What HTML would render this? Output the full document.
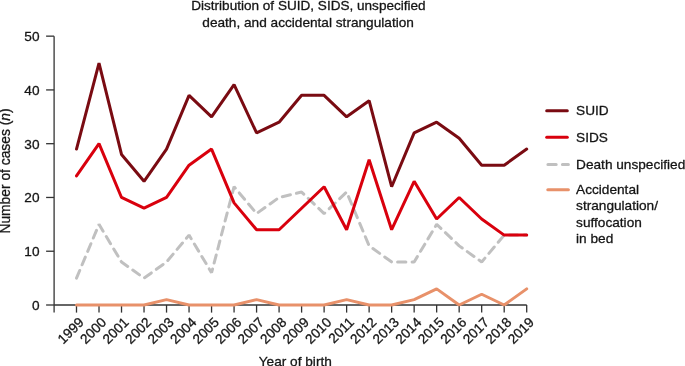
<!DOCTYPE html>
<html><head><meta charset="utf-8"><title>Distribution of SUID, SIDS</title>
<style>
html,body{margin:0;padding:0;background:#fff;}
svg{display:block;font-family:"Liberation Sans",sans-serif;fill:#111;}
text{fill:#151515;stroke:#151515;stroke-width:0.3px;stroke-linejoin:round}
.ln{fill:none;stroke-width:3;stroke-linejoin:bevel;stroke-linecap:round}
.ax{stroke:#333;stroke-width:1.3;fill:none}
</style></head><body>
<svg width="685" height="366" viewBox="0 0 685 366">
<rect width="685" height="366" fill="#fff"/>
<text x="308.45" y="9.9" font-size="13.57" text-anchor="middle">Distribution of SUID, SIDS, unspecified</text>
<text x="308.1" y="27" font-size="13.65" text-anchor="middle">death, and accidental strangulation</text>
<path class="ax" d="M54.1,36.15V312.60"/>
<path class="ax" d="M54.1,305.0H526.70"/>
<path class="ax" d="M46.1,305.00H54.1"/>
<text x="39.5" y="309.90" font-size="13.65" text-anchor="end">0</text>
<path class="ax" d="M46.1,251.23H54.1"/>
<text x="39.5" y="256.13" font-size="13.65" text-anchor="end">10</text>
<path class="ax" d="M46.1,197.46H54.1"/>
<text x="39.5" y="202.36" font-size="13.65" text-anchor="end">20</text>
<path class="ax" d="M46.1,143.69H54.1"/>
<text x="39.5" y="148.59" font-size="13.65" text-anchor="end">30</text>
<path class="ax" d="M46.1,89.92H54.1"/>
<text x="39.5" y="94.82" font-size="13.65" text-anchor="end">40</text>
<path class="ax" d="M46.1,36.15H54.1"/>
<text x="39.5" y="41.05" font-size="13.65" text-anchor="end">50</text>
<path class="ax" d="M76.50,305.0V312.6"/>
<text transform="translate(84.70,323.20) rotate(-45)" font-size="13.65" text-anchor="end">1999</text>
<path class="ax" d="M99.01,305.0V312.6"/>
<text transform="translate(107.21,323.20) rotate(-45)" font-size="13.65" text-anchor="end">2000</text>
<path class="ax" d="M121.52,305.0V312.6"/>
<text transform="translate(129.72,323.20) rotate(-45)" font-size="13.65" text-anchor="end">2001</text>
<path class="ax" d="M144.03,305.0V312.6"/>
<text transform="translate(152.23,323.20) rotate(-45)" font-size="13.65" text-anchor="end">2002</text>
<path class="ax" d="M166.54,305.0V312.6"/>
<text transform="translate(174.74,323.20) rotate(-45)" font-size="13.65" text-anchor="end">2003</text>
<path class="ax" d="M189.05,305.0V312.6"/>
<text transform="translate(197.25,323.20) rotate(-45)" font-size="13.65" text-anchor="end">2004</text>
<path class="ax" d="M211.56,305.0V312.6"/>
<text transform="translate(219.76,323.20) rotate(-45)" font-size="13.65" text-anchor="end">2005</text>
<path class="ax" d="M234.07,305.0V312.6"/>
<text transform="translate(242.27,323.20) rotate(-45)" font-size="13.65" text-anchor="end">2006</text>
<path class="ax" d="M256.58,305.0V312.6"/>
<text transform="translate(264.78,323.20) rotate(-45)" font-size="13.65" text-anchor="end">2007</text>
<path class="ax" d="M279.09,305.0V312.6"/>
<text transform="translate(287.29,323.20) rotate(-45)" font-size="13.65" text-anchor="end">2008</text>
<path class="ax" d="M301.60,305.0V312.6"/>
<text transform="translate(309.80,323.20) rotate(-45)" font-size="13.65" text-anchor="end">2009</text>
<path class="ax" d="M324.11,305.0V312.6"/>
<text transform="translate(332.31,323.20) rotate(-45)" font-size="13.65" text-anchor="end">2010</text>
<path class="ax" d="M346.62,305.0V312.6"/>
<text transform="translate(354.82,323.20) rotate(-45)" font-size="13.65" text-anchor="end">2011</text>
<path class="ax" d="M369.13,305.0V312.6"/>
<text transform="translate(377.33,323.20) rotate(-45)" font-size="13.65" text-anchor="end">2012</text>
<path class="ax" d="M391.64,305.0V312.6"/>
<text transform="translate(399.84,323.20) rotate(-45)" font-size="13.65" text-anchor="end">2013</text>
<path class="ax" d="M414.15,305.0V312.6"/>
<text transform="translate(422.35,323.20) rotate(-45)" font-size="13.65" text-anchor="end">2014</text>
<path class="ax" d="M436.66,305.0V312.6"/>
<text transform="translate(444.86,323.20) rotate(-45)" font-size="13.65" text-anchor="end">2015</text>
<path class="ax" d="M459.17,305.0V312.6"/>
<text transform="translate(467.37,323.20) rotate(-45)" font-size="13.65" text-anchor="end">2016</text>
<path class="ax" d="M481.68,305.0V312.6"/>
<text transform="translate(489.88,323.20) rotate(-45)" font-size="13.65" text-anchor="end">2017</text>
<path class="ax" d="M504.19,305.0V312.6"/>
<text transform="translate(512.39,323.20) rotate(-45)" font-size="13.65" text-anchor="end">2018</text>
<path class="ax" d="M526.70,305.0V312.6"/>
<text transform="translate(534.90,323.20) rotate(-45)" font-size="13.65" text-anchor="end">2019</text>
<text transform="translate(10.25,171.0) rotate(-90)" font-size="13.82" text-anchor="middle">Number of cases (<tspan font-style="italic">n</tspan>)</text>
<text x="295.3" y="365.5" font-size="13.65" text-anchor="middle">Year of birth</text>
<polyline class="ln" stroke="#c0c0c0" stroke-dasharray="8.3 6.2" points="76.50,278.12 99.01,224.34 121.52,261.98 144.03,278.12 166.54,261.98 189.05,235.10 211.56,272.74 234.07,186.71 256.58,213.59 279.09,197.46 301.60,192.08 324.11,213.59 346.62,192.08 369.13,245.85 391.64,261.98 414.15,261.98 436.66,224.34 459.17,245.85 481.68,261.98 504.19,235.10 526.70,235.10"/>
<polyline class="ln" stroke="#e8916a" points="76.50,305.00 99.01,305.00 121.52,305.00 144.03,305.00 166.54,299.62 189.05,305.00 211.56,305.00 234.07,305.00 256.58,299.62 279.09,305.00 301.60,305.00 324.11,305.00 346.62,299.62 369.13,305.00 391.64,305.00 414.15,299.62 436.66,288.87 459.17,305.00 481.68,294.25 504.19,305.00 526.70,288.87"/>
<polyline class="ln" stroke="#d9000d" points="76.50,175.95 99.01,143.69 121.52,197.46 144.03,208.21 166.54,197.46 189.05,165.20 211.56,149.07 234.07,202.84 256.58,229.72 279.09,229.72 301.60,208.21 324.11,186.71 346.62,229.72 369.13,159.82 391.64,229.72 414.15,181.33 436.66,218.97 459.17,197.46 481.68,218.97 504.19,235.10 526.70,235.10"/>
<polyline class="ln" stroke="#7a0b12" points="76.50,149.07 99.01,63.03 121.52,154.44 144.03,181.33 166.54,149.07 189.05,95.30 211.56,116.81 234.07,84.54 256.58,132.94 279.09,122.18 301.60,95.30 324.11,95.30 346.62,116.81 369.13,100.67 391.64,186.71 414.15,132.94 436.66,122.18 459.17,138.31 481.68,165.20 504.19,165.20 526.70,149.07"/>
<path d="M546.7,110.7H567.3" fill="none" stroke="#7a0b12" stroke-width="3" stroke-linecap="round"/>
<path d="M546.7,137.3H567.3" fill="none" stroke="#d9000d" stroke-width="3" stroke-linecap="round"/>
<path d="M547.9,164.5H568.4" fill="none" stroke="#c0c0c0" stroke-width="3" stroke-linecap="round" stroke-dasharray="8.3 6.2"/>
<path d="M547.8,189.85H568.4" fill="none" stroke="#e8916a" stroke-width="3" stroke-linecap="round"/>
<text x="576.1" y="114.8" font-size="13.65">SUID</text>
<text x="576.1" y="141.8" font-size="13.65">SIDS</text>
<text x="576.1" y="168.8" font-size="13.65">Death unspecified</text>
<text x="576.1" y="193.9" font-size="13.65">Accidental</text>
<text x="576.1" y="210.3" font-size="13.65">strangulation/</text>
<text x="576.1" y="226.7" font-size="13.65">suffocation</text>
<text x="576.1" y="243.1" font-size="13.65">in bed</text>
</svg></body></html>
